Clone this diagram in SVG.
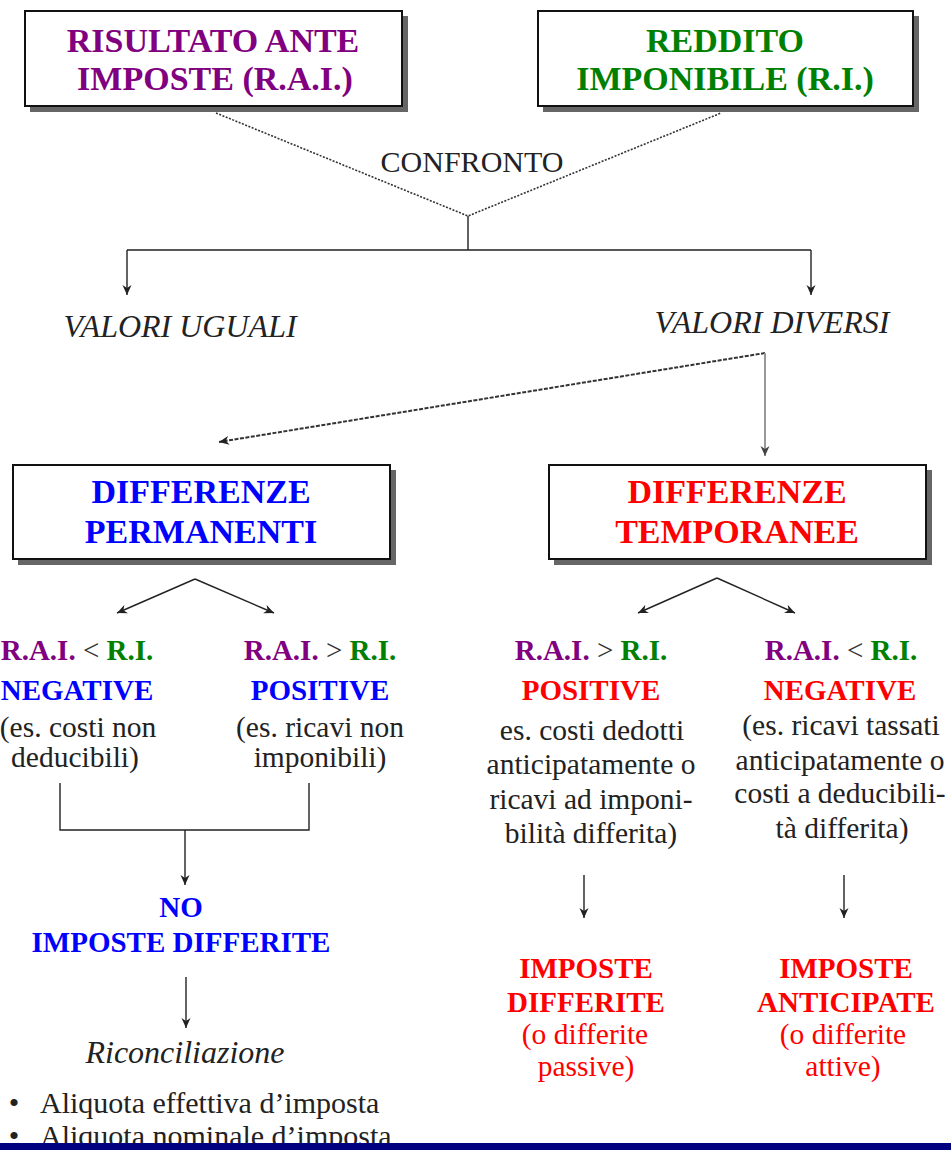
<svg xmlns="http://www.w3.org/2000/svg" width="951" height="1150" viewBox="0 0 951 1150">
<defs>
<marker id="arr" markerUnits="userSpaceOnUse" markerWidth="12" markerHeight="10" refX="10" refY="5" orient="auto">
<path d="M0,0.5 L10,5 L0,9.5 L3,5 Z" fill="#222"/>
</marker>
<marker id="arrg" markerUnits="userSpaceOnUse" markerWidth="12" markerHeight="10" refX="10" refY="5" orient="auto">
<path d="M0,0.5 L10,5 L0,9.5 L3,5 Z" fill="#444"/>
</marker>
</defs>
<style>
text{font-family:'Liberation Serif','DejaVu Serif',serif;text-anchor:middle}
.box{fill:#fff;stroke:#111;stroke-width:2}
.shadow{fill:#666}
.bt{font-size:34px;font-weight:bold}
.b{font-weight:bold;font-size:29px}
.r{font-size:29.5px;fill:#222}
.it{font-style:italic;font-size:32px;fill:#222}
.pur{fill:#800080}
.grn{fill:#008000}
.blu{fill:#0000ff}
.red{fill:#ff0000}
.ln{stroke:#222;stroke-width:1.4;fill:none}
.dot{stroke:#333;stroke-width:1.6;stroke-dasharray:2 1.5;fill:none}
</style>
<rect width="951" height="1150" fill="#fff"/>

<g id="connectors">
<path class="dot" d="M216,113 L468,216 L721,113"/>
<path class="ln" d="M468,216 V250 M127,250 H811"/>
<path class="ln" d="M127,250 V295" marker-end="url(#arr)"/>
<path class="ln" d="M811,250 V295" marker-end="url(#arr)"/>
<path stroke="#333" stroke-width="2" stroke-dasharray="4 1.5" fill="none" d="M765,353 L219,442" marker-end="url(#arr)"/>
<path stroke="#999" stroke-width="2" fill="none" d="M765,353 V456" marker-end="url(#arrg)"/>
<path class="ln" d="M195,579 L117,613" marker-end="url(#arr)"/>
<path class="ln" d="M195,579 L274,613" marker-end="url(#arr)"/>
<path class="ln" d="M717,578 L638,613" marker-end="url(#arr)"/>
<path class="ln" d="M717,578 L795,613" marker-end="url(#arr)"/>
<path class="ln" d="M60,783 V830 H309 V783"/>
<path class="ln" d="M185,830 V885" marker-end="url(#arr)"/>
<path class="ln" d="M584,875 V918" marker-end="url(#arr)"/>
<path class="ln" d="M844,875 V918" marker-end="url(#arr)"/>
<path class="ln" d="M186,977 V1028" marker-end="url(#arr)"/>
</g>

<g id="rai">
<rect class="shadow" x="30" y="16" width="378" height="96"/>
<rect class="box" x="25" y="11" width="377" height="95"/>
<text class="bt pur" x="213" y="52">RISULTATO ANTE</text>
<text class="bt pur" x="215" y="90">IMPOSTE (R.A.I.)</text>
</g>

<g id="ri">
<rect class="shadow" x="543" y="16" width="376" height="96"/>
<rect class="box" x="538" y="11" width="375" height="95"/>
<text class="bt grn" x="725" y="52">REDDITO</text>
<text class="bt grn" x="725" y="90">IMPONIBILE (R.I.)</text>
</g>

<g id="confronto">
<text x="472" y="172" font-size="30" fill="#222">CONFRONTO</text>
</g>

<g id="valori-uguali">
<text class="it" x="180" y="337">VALORI UGUALI</text>
</g>
<g id="valori-diversi">
<text class="it" x="772" y="333">VALORI DIVERSI</text>
</g>

<g id="diff-permanenti">
<rect class="shadow" x="18" y="470" width="378" height="95"/>
<rect class="box" x="13" y="465" width="377" height="94"/>
<text class="bt blu" x="201" y="503">DIFFERENZE</text>
<text class="bt blu" x="201" y="543">PERMANENTI</text>
</g>

<g id="diff-temporanee">
<rect class="shadow" x="554" y="470" width="378" height="95"/>
<rect class="box" x="549" y="465" width="377" height="94"/>
<text class="bt red" x="737" y="503">DIFFERENZE</text>
<text class="bt red" x="737" y="543">TEMPORANEE</text>
</g>

<g id="perm-negative">
<text class="b" x="77" y="660"><tspan class="pur">R.A.I.</tspan><tspan font-weight="normal" fill="#333"> &lt; </tspan><tspan class="grn">R.I.</tspan></text>
<text class="b blu" x="77" y="700">NEGATIVE</text>
<text class="r" x="78" y="737">(es. costi non</text>
<text class="r" x="75" y="767">deducibili)</text>
</g>

<g id="perm-positive">
<text class="b" x="320" y="660"><tspan class="pur">R.A.I.</tspan><tspan font-weight="normal" fill="#333"> &gt; </tspan><tspan class="grn">R.I.</tspan></text>
<text class="b blu" x="320" y="700">POSITIVE</text>
<text class="r" x="320" y="737">(es. ricavi non</text>
<text class="r" x="320" y="767">imponibili)</text>
</g>

<g id="temp-positive">
<text class="b" x="591" y="660"><tspan class="pur">R.A.I.</tspan><tspan font-weight="normal" fill="#333"> &gt; </tspan><tspan class="grn">R.I.</tspan></text>
<text class="b red" x="591" y="700">POSITIVE</text>
<text class="r" x="592" y="740">es. costi dedotti</text>
<text class="r" x="591" y="774">anticipatamente o</text>
<text class="r" x="591" y="809">ricavi ad imponi-</text>
<text class="r" x="591" y="843">bilità differita)</text>
</g>

<g id="temp-negative">
<text class="b" x="841" y="660"><tspan class="pur">R.A.I.</tspan><tspan font-weight="normal" fill="#333"> &lt; </tspan><tspan class="grn">R.I.</tspan></text>
<text class="b red" x="840" y="700">NEGATIVE</text>
<text class="r" x="841" y="735">(es. ricavi tassati</text>
<text class="r" x="840" y="770">anticipatamente o</text>
<text class="r" x="840" y="803">costi a deducibili-</text>
<text class="r" x="842" y="838">tà differita)</text>
</g>

<g id="no-imposte">
<text class="b blu" x="181" y="917" font-size="30">NO</text>
<text class="b blu" x="181" y="952" font-size="30">IMPOSTE DIFFERITE</text>
</g>

<g id="riconciliazione">
<text class="it" x="185" y="1063">Riconciliazione</text>
<text x="14" y="1113" font-size="30" fill="#222">•</text>
<text x="40" y="1113" font-size="30" fill="#222" style="text-anchor:start">Aliquota effettiva d’imposta</text>
<text x="14" y="1146" font-size="30" fill="#222">•</text>
<text x="40" y="1146" font-size="30" fill="#222" style="text-anchor:start">Aliquota nominale d’imposta</text>
</g>

<g id="imposte-differite">
<text class="b red" x="586" y="978" font-size="30.5">IMPOSTE</text>
<text class="b red" x="586" y="1012" font-size="30.5">DIFFERITE</text>
<text class="r red" x="585" y="1044">(o differite</text>
<text class="r red" x="586" y="1076">passive)</text>
</g>

<g id="imposte-anticipate">
<text class="b red" x="846" y="978" font-size="30.5">IMPOSTE</text>
<text class="b red" x="846" y="1012" font-size="30.5">ANTICIPATE</text>
<text class="r red" x="843" y="1044">(o differite</text>
<text class="r red" x="843" y="1076">attive)</text>
</g>

<rect x="0" y="1143" width="951" height="7" fill="#000080"/>
</svg>
